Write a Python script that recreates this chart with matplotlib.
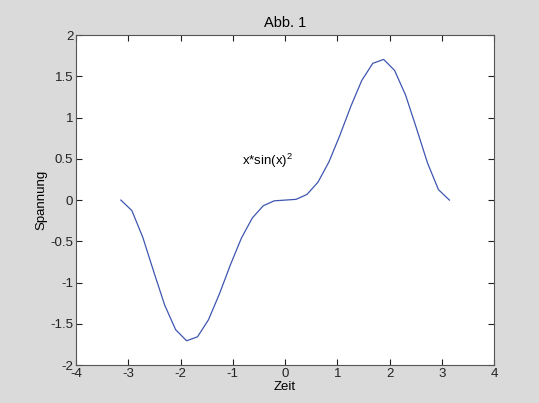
import matplotlib
matplotlib.use("Agg")
import matplotlib.pyplot as plt

# Abtastpunkte (Zeit) und gemessene Spannung
zeit = [-3.142, -2.932, -2.723, -2.513, -2.304, -2.094, -1.885, -1.676,
        -1.466, -1.257, -1.047, -0.838, -0.628, -0.419, -0.209, 0.0,
        0.209, 0.419, 0.628, 0.838, 1.047, 1.257, 1.466, 1.676,
        1.885, 2.094, 2.304, 2.513, 2.723, 2.932, 3.142]
spannung = [0.0, -0.127, -0.450, -0.868, -1.272, -1.571, -1.705, -1.657,
            -1.450, -1.137, -0.785, -0.463, -0.217, -0.069, -0.009, 0.0,
            0.009, 0.069, 0.217, 0.463, 0.785, 1.137, 1.450, 1.657,
            1.705, 1.571, 1.272, 0.868, 0.450, 0.127, 0.0]

x_ticks = [-4, -3, -2, -1, 0, 1, 2, 3, 4]
y_ticks = [-2, -1.5, -1, -0.5, 0, 0.5, 1, 1.5, 2]
y_ticklabels = ["-2", "-1.5", "-1", "-0.5", "0", "0.5", "1", "1.5", "2"]

plt.rcParams["font.family"] = ["Liberation Sans", "DejaVu Sans"]
plt.rcParams["mathtext.fontset"] = "custom"
plt.rcParams["mathtext.rm"] = "Liberation Sans"

fig = plt.figure(figsize=(5.39, 4.03), dpi=100, facecolor="#dadada")
ax = fig.add_axes([0.141, 0.094, 0.776, 0.819])
ax.set_facecolor("white")

ax.plot(zeit, spannung, color="#3f56b0", lw=0.9)

ax.set_xlim(-4, 4)
ax.set_ylim(-2, 2)
ax.set_xticks(x_ticks)
ax.set_xticklabels([str(t) for t in x_ticks])
ax.set_yticks(y_ticks)
ax.set_yticklabels(y_ticklabels)
ax.tick_params(direction="in", top=True, right=True, length=4, width=0.8,
               labelsize=9.5, pad=2, colors="#222222")
for s in ax.spines.values():
    s.set_color("#555555")
    s.set_linewidth(0.8)

ax.set_title("Abb. 1", fontsize=10.5, pad=6)
ax.set_xlabel("Zeit", fontsize=9.5, labelpad=1)
ax.set_ylabel("Spannung", fontsize=9.5, labelpad=2)

ax.text(-0.82, 0.47, r"x*sin(x)$^2$", fontsize=9.5, va="center", ha="left")

fig.savefig("out.png", dpi=100, facecolor=fig.get_facecolor())
